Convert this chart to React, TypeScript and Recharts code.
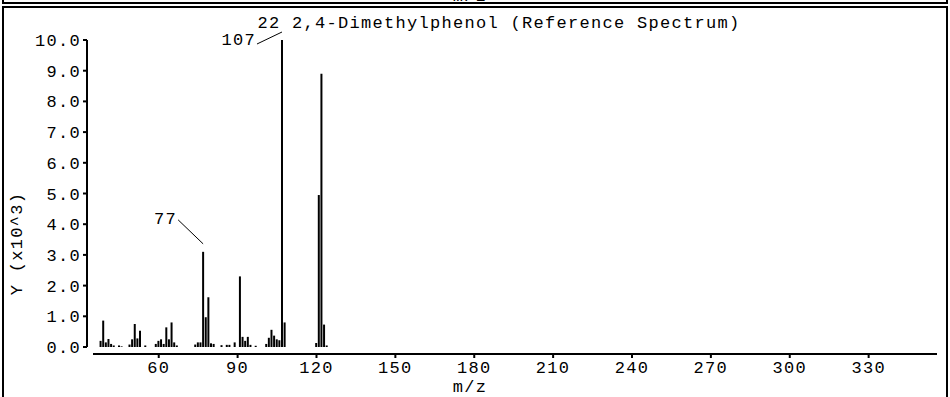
import React from 'react';
import { BarChart, Bar, XAxis, YAxis, LabelList } from 'recharts';

// m/z values (x) and intensities in thousands (y)
const mz = [38, 39, 40, 41, 42, 43, 45, 46, 49, 50, 51, 52, 53, 55, 59, 60, 61, 62, 63, 64, 65, 66, 67, 74, 75, 76, 77, 78, 79, 80, 81, 84, 86, 87, 89, 91, 92, 93, 94, 95, 97, 101, 102, 103, 104, 105, 106, 107, 108, 120, 121, 122, 123, 124];
const intensity = [0.2, 0.86, 0.15, 0.26, 0.1, 0.05, 0.05, 0.02, 0.08, 0.25, 0.75, 0.28, 0.53, 0.05, 0.1, 0.2, 0.25, 0.1, 0.64, 0.25, 0.8, 0.15, 0.05, 0.08, 0.15, 0.15, 3.1, 0.97, 1.62, 0.12, 0.1, 0.06, 0.07, 0.07, 0.15, 2.3, 0.33, 0.2, 0.33, 0.07, 0.04, 0.1, 0.3, 0.56, 0.37, 0.25, 0.22, 10.0, 0.8, 0.13, 4.95, 8.9, 0.73, 0.05];
const annotatedMz = [77, 107];

const xTicks = [60, 90, 120, 150, 180, 210, 240, 270, 300, 330];
const yTicks = [0, 1, 2, 3, 4, 5, 6, 7, 8, 9, 10];
const xDomain = [35, 356];
const yDomain = [0, 10];

const title = '22 2,4-Dimethylphenol (Reference Spectrum)';
const xLabel = 'm/z';
const yLabel = 'Y (x10^3)';

const data = mz.map((m, i) => ({
  mz: m,
  y: intensity[i],
  label: annotatedMz.includes(m) ? String(m) : '',
}));

const FONT = '"Liberation Mono", "DejaVu Sans Mono", monospace';
const FS = 17;
const LS = 1.3;

// leader layout per annotation (pixels relative to bar top)
const leaderLayout: Record<string, { dx: number; dy: number; textDy: number }> = {
  '77': { dx: -25, dy: -24, textDy: 0 },
  '107': { dx: -25, dy: 12, textDy: -4 },
};

const AnnotationLabel = (props: any) => {
  const value = props.value;
  if (!value) return null;
  const vb = props.viewBox && props.viewBox.x != null ? props.viewBox : props;
  const x = Number(vb.x);
  const y = Number(vb.y);
  const w = Number(vb.width) || 0;
  const h = Number(vb.height) || 0;
  const top = h < 0 ? y + h : y;
  const cfg = leaderLayout[value] || { dx: -25, dy: -24, textDy: 0 };
  const x1 = x + w / 2;
  const y1 = top - 8;
  const x2 = x1 + cfg.dx;
  const y2 = y1 + cfg.dy;
  return (
    <g>
      <line x1={x1} y1={y1} x2={x2} y2={y2} stroke="#000" strokeWidth={1} />
      <text
        x={x2 - 1}
        y={y2 + cfg.textDy}
        textAnchor="end"
        dominantBaseline="central"
        fill="#000"
        style={{ fontFamily: FONT, fontSize: FS, letterSpacing: LS }}
      >
        {value}
      </text>
    </g>
  );
};

const tickStyle = { fill: '#000', fontFamily: FONT, fontSize: FS, letterSpacing: LS };

export default function App() {
  return (
    <div
      style={{
        position: 'absolute',
        left: 0,
        top: 0,
        width: 950,
        height: 397,
        background: '#fff',
        overflow: 'hidden',
      }}
    >
      {/* frame + title */}
      <svg width={950} height={397} style={{ position: 'absolute', left: 0, top: 0 }}>
        <text
          x={470}
          y={1}
          textAnchor="middle"
          fill="#000"
          style={{ fontFamily: FONT, fontSize: FS, letterSpacing: LS }}
        >
          {xLabel}
        </text>
        <line x1={2} y1={3} x2={948} y2={3} stroke="#000" strokeWidth={2} />
        <line x1={3} y1={0} x2={3} y2={3} stroke="#000" strokeWidth={2} />
        <line x1={947} y1={0} x2={947} y2={3} stroke="#000" strokeWidth={2} />
        <line x1={2} y1={7} x2={948} y2={7} stroke="#000" strokeWidth={2} />
        <line x1={3} y1={7} x2={3} y2={397} stroke="#000" strokeWidth={2} />
        <line x1={947} y1={7} x2={947} y2={397} stroke="#000" strokeWidth={2} />
        <text
          x={499}
          y={28}
          textAnchor="middle"
          fill="#000"
          style={{ fontFamily: FONT, fontSize: FS, letterSpacing: LS }}
        >
          {title}
        </text>
      </svg>

      {/* Y axis chart */}
      <div style={{ position: 'absolute', left: 0, top: 0 }}>
        <BarChart width={950} height={397} data={data} margin={{ top: 40, right: 13, bottom: 50, left: 0 }}>
          <XAxis type="number" dataKey="mz" domain={xDomain} hide />
          <YAxis
            type="number"
            domain={yDomain}
            ticks={yTicks}
            interval={0}
            width={87}
            tickFormatter={(v: number) => v.toFixed(1)}
            tick={tickStyle}
            tickSize={4}
            tickMargin={2}
            axisLine={{ stroke: '#000', strokeWidth: 2 }}
            tickLine={{ stroke: '#000', strokeWidth: 2 }}
            label={{
              value: yLabel,
              angle: -90,
              position: 'center',
              dx: -28,
              dy: 50,
              style: { fill: '#000', fontFamily: FONT, fontSize: FS, letterSpacing: LS, textAnchor: 'middle' },
            }}
          />
          <Bar dataKey="y" fill="transparent" barSize={2} isAnimationActive={false} />
        </BarChart>
      </div>

      {/* Bars + X axis chart */}
      <div style={{ position: 'absolute', left: 0, top: 0 }}>
        <BarChart width={950} height={397} data={data} margin={{ top: 40, right: 13, bottom: 0, left: 93 }} barSize={2}>
          <XAxis
            type="number"
            dataKey="mz"
            domain={xDomain}
            ticks={xTicks}
            interval={0}
            allowDataOverflow
            height={43}
            tick={tickStyle}
            tickSize={4}
            tickMargin={3}
            axisLine={{ stroke: '#000', strokeWidth: 2 }}
            tickLine={{ stroke: '#000', strokeWidth: 2 }}
            label={{
              value: xLabel,
              position: 'insideBottom',
              offset: 5,
              dx: -45,
              style: { fill: '#000', fontFamily: FONT, fontSize: FS, letterSpacing: LS },
            }}
          />
          <YAxis type="number" domain={yDomain} hide padding={{ top: 0, bottom: 7 }} allowDataOverflow />
          <Bar dataKey="y" fill="#000" isAnimationActive={false}>
            <LabelList dataKey="label" content={AnnotationLabel} />
          </Bar>
        </BarChart>
      </div>
    </div>
  );
}
